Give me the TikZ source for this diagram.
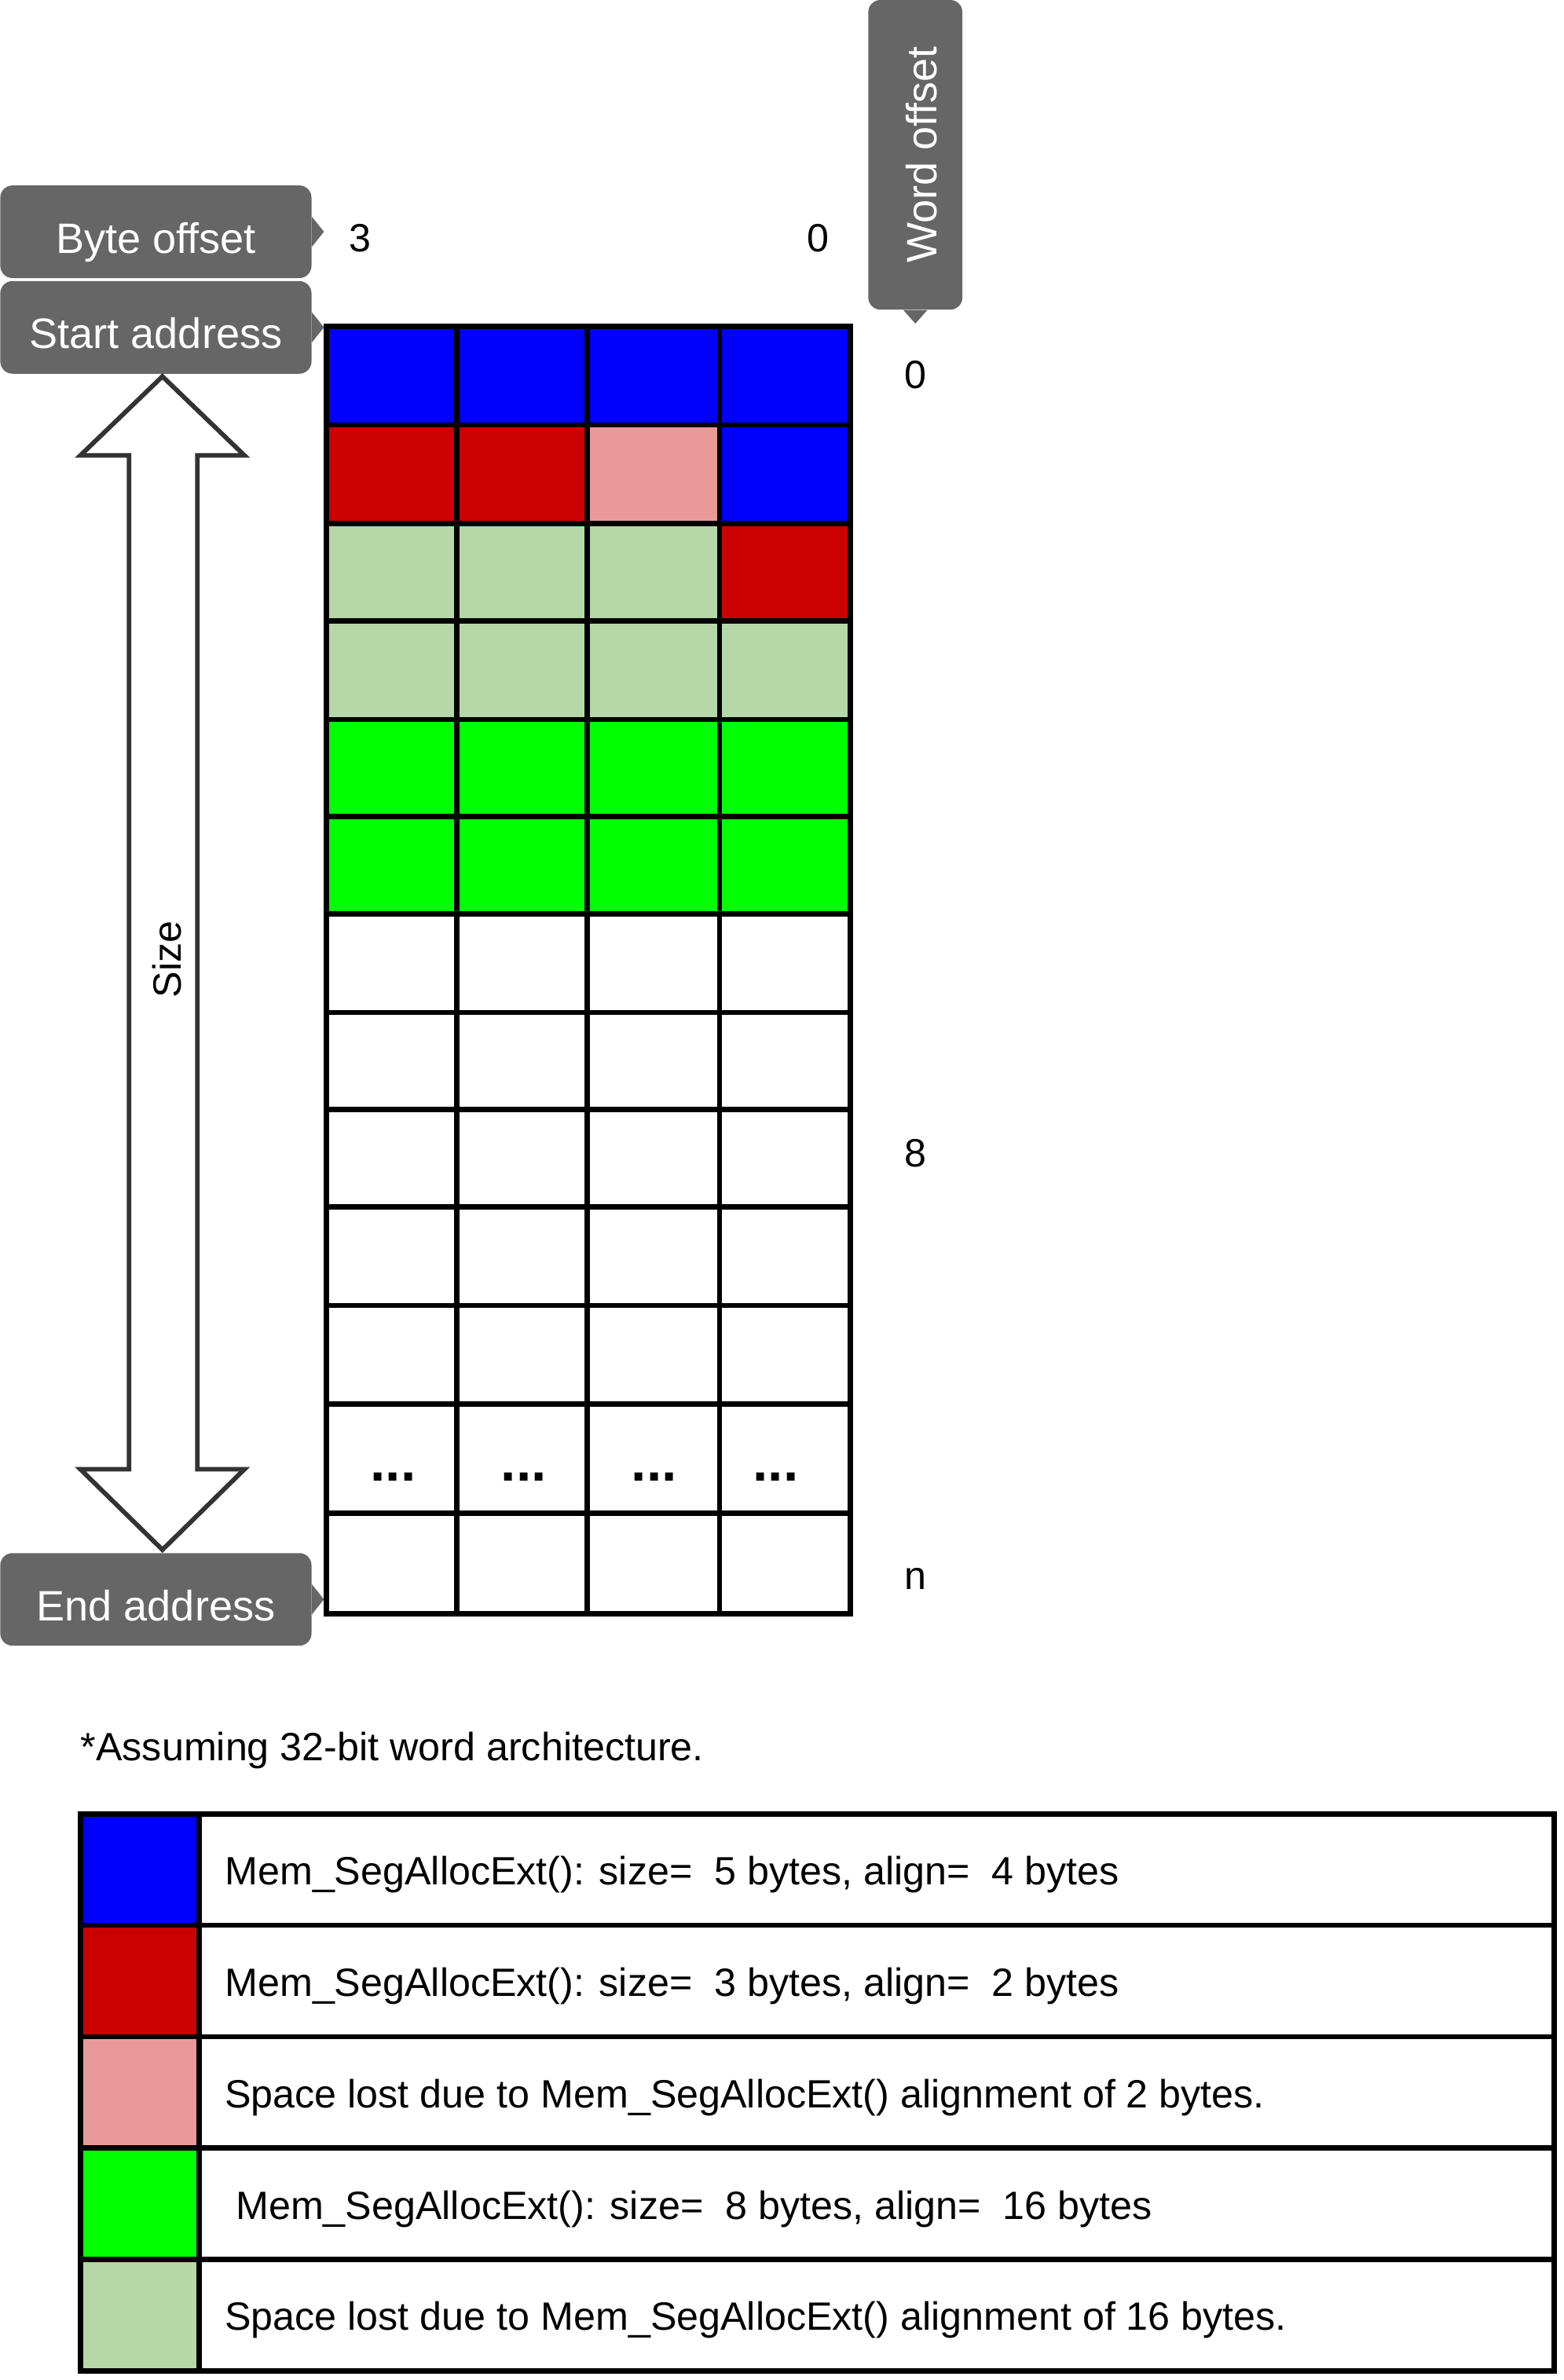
\documentclass[tikz,border=0pt]{standalone}
\usepackage{fontspec}
\setmainfont{Liberation Sans}
\usetikzlibrary{positioning}
\definecolor{allocblue}{HTML}{0000FF}
\definecolor{allocred}{HTML}{CC0000}
\definecolor{lostred}{HTML}{EA9999}
\definecolor{allocgreen}{HTML}{00FF00}
\definecolor{lostgreen}{HTML}{B6D7A8}
\definecolor{calloutgray}{HTML}{666666}
\definecolor{arrowgray}{HTML}{333333}
\tikzset{
  callout/.style={fill=calloutgray, rounded corners=8pt, text=white, inner sep=0pt,
    font=\fontsize{28}{32}\selectfont, minimum width=205pt, minimum height=61pt,
    text height=28pt, text depth=0pt},
  plain/.style={font=\fontsize{26}{30}\selectfont, inner sep=0pt},
  cell/.style={line width=3.5pt, line cap=rect},
}
\begin{document}
\begin{tikzpicture}[x=1pt,y=-1pt]
 \useasboundingbox (0,0) rectangle (1030,1568);
 % memory cells
 \foreach \top/\bot/\ca/\cb/\cc/\cd in {
   215/280/allocblue/allocblue/allocblue/allocblue,
   280/345/allocred/allocred/lostred/allocblue,
   345/409/lostgreen/lostgreen/lostgreen/allocred,
   409/474/lostgreen/lostgreen/lostgreen/lostgreen,
   474/538/allocgreen/allocgreen/allocgreen/allocgreen,
   538/602/allocgreen/allocgreen/allocgreen/allocgreen}{
   \fill[\ca] (215,\top) rectangle (301,\bot);
   \fill[\cb] (301,\top) rectangle (387,\bot);
   \fill[\cc] (387,\top) rectangle (474,\bot);
   \fill[\cd] (474,\top) rectangle (560,\bot);
 }
 \draw[cell] (215,215) rectangle (560,1063);
 \foreach \x in {301,387,474} \draw[cell] (\x,215) -- (\x,1063);
 \foreach \y in {280,345,409,474,538,602,667,731,795,860,925,997} \draw[cell] (215,\y) -- (560,\y);
 \foreach \x in {259,345,431,511} \node[plain, font=\fontsize{36}{40}\selectfont\bfseries] at (\x,973) {...};
 % offsets
 \node[plain] (byte3) at (237,157) {3};
 \node[plain] (byte0) at (539,157) {0};
 \node[plain] (word0) at (603,247) {0};
 \node[plain] (word8) at (603,760) {8};
 \node[plain] (wordn) at (603,1040) {n};
 % callouts
 \node[callout, anchor=north west] (byteoff) at (0,122) {Byte offset};
 \fill[calloutgray] (byteoff.east) ++(0,-10) -- ++(8,10) -- ++(-8,10) -- cycle;
 \node[callout, anchor=north west] (start) at (0,185) {Start address};
 \fill[calloutgray] (start.east) ++(0,-10) -- ++(8,10) -- ++(-8,10) -- cycle;
 \node[callout, anchor=north west] (end) at (0,1023) {End address};
 \fill[calloutgray] (end.east) ++(0,-10) -- ++(8,10) -- ++(-8,10) -- cycle;
 \node[callout, rotate=90, minimum width=204pt, minimum height=62pt] (wordoff) at (603,102) {Word offset};
 \fill[calloutgray] (wordoff.west) ++(-8,0) -- ++(8,9) -- ++(8,-9) -- cycle;
 % size arrow
 \draw[line width=3pt, draw=arrowgray, fill=white, miter limit=20]
   (107,248) -- (161,300) -- (130,300) -- (130,968) -- (161,968) -- (107,1021)
   -- (53,968) -- (85,968) -- (85,300) -- (53,300) -- cycle;
 \node[plain, rotate=90] (size) at (110,632) {Size};
 % legend
 \node[plain, anchor=west] (note) at (53,1153) {*Assuming 32-bit word architecture.};
 \foreach \top/\col/\txt in {
   1195/allocblue/{Mem\_SegAllocExt(): size=\ \ 5 bytes, align=\ \ 4 bytes},
   1268.4/allocred/{Mem\_SegAllocExt(): size=\ \ 3 bytes, align=\ \ 2 bytes},
   1341.8/lostred/{Space lost due to Mem\_SegAllocExt() alignment of 2 bytes.},
   1415.2/allocgreen/{\ Mem\_SegAllocExt(): size=\ \ 8 bytes, align=\ \ 16 bytes},
   1488.6/lostgreen/{Space lost due to Mem\_SegAllocExt() alignment of 16 bytes.}}{
   \fill[\col] (53,\top) rectangle (131,\top+73.4);
   \node[plain, anchor=west] at (148,\top+40) {\txt};
 }
 \draw[cell] (53,1195) rectangle (1024,1562);
 \draw[cell] (131,1195) -- (131,1562);
 \foreach \y in {1268.4,1341.8,1415.2,1488.6} \draw[cell] (53,\y) -- (1024,\y);
\end{tikzpicture}
\end{document}
